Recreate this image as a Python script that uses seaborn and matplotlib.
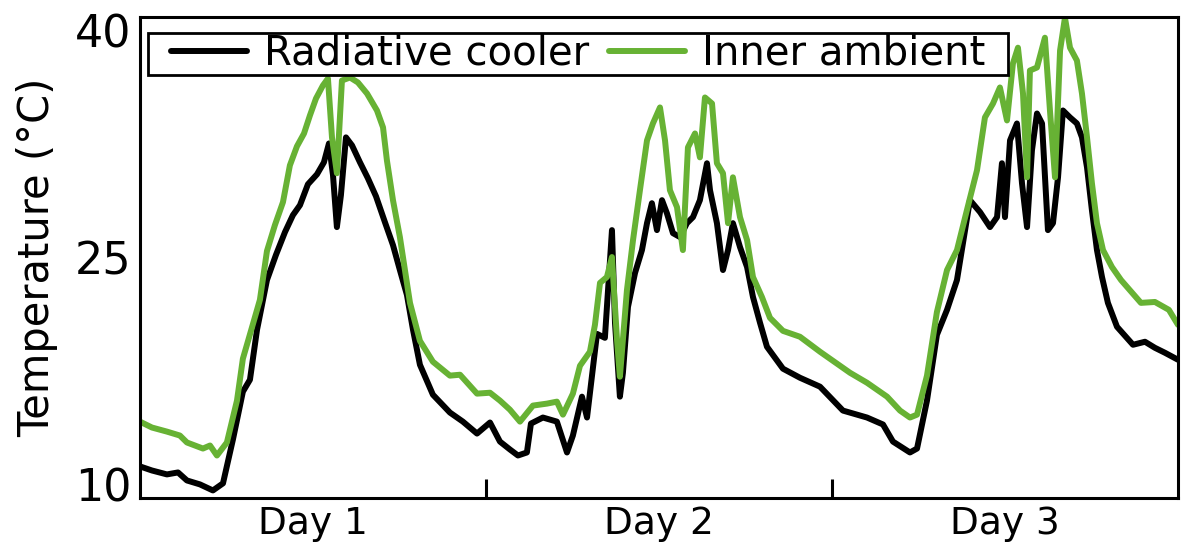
"""
Radiative cooler vs inner ambient temperature over three days.
"""

import matplotlib
matplotlib.use("Agg")
import matplotlib.pyplot as plt
import seaborn as sns
import pandas as pd
from matplotlib.patches import Rectangle
from matplotlib.ticker import FixedLocator


# time in hours since start, temperatures in degC
cooler_hours = [
    0.00, 0.83, 1.87, 2.64, 3.26, 4.16, 5.06, 5.76, 6.45, 7.14, 7.63, 8.12,
    8.81, 9.43, 10.06, 10.61, 11.10, 11.65, 12.28, 12.76, 13.11, 13.39, 13.66,
    13.94, 14.29, 14.71, 15.26, 15.81, 16.37, 16.99, 17.55, 18.03, 18.52, 18.94,
    19.42, 20.32, 21.50, 22.40, 23.38, 24.28, 24.97, 25.66, 26.22, 26.84, 27.12,
    27.95, 28.92, 29.62, 30.03, 30.66, 31.01, 31.70, 32.25, 32.74, 32.95, 33.29,
    33.50, 33.85, 34.34, 34.82, 35.17, 35.51, 35.86, 36.21, 36.55, 36.97, 37.46,
    37.94, 38.36, 38.84, 39.33, 39.54, 40.02, 40.44, 40.79, 41.13, 41.62, 42.11,
    42.52, 43.01, 43.49, 44.60, 45.78, 47.17, 48.76, 50.43, 51.54, 52.23, 53.41,
    53.90, 54.59, 55.28, 55.98, 56.67, 57.57, 58.27, 58.96, 59.45, 59.79, 60.00,
    60.35, 60.83, 61.18, 61.53, 61.87, 62.22, 62.57, 62.98, 63.33, 63.68, 64.02,
    64.51, 64.99, 65.34, 65.69, 66.03, 66.38, 66.73, 67.14, 67.77, 68.88, 69.71,
    70.40, 71.10, 72.00,
]
cooler_temp = [
    11.19, 10.92, 10.66, 10.79, 10.26, 10.00, 9.60, 10.07, 12.97, 16.13, 16.92,
    20.22, 23.51, 25.16, 26.68, 27.80, 28.46, 29.84, 30.50, 31.29, 32.54, 30.44,
    27.01, 29.12, 32.94, 32.41, 31.29, 30.24, 29.05, 27.34, 25.82, 24.17, 22.52,
    20.22, 17.91, 15.93, 14.75, 14.15, 13.36, 14.09, 12.83, 12.31, 11.91, 12.11,
    14.02, 14.42, 14.15, 12.11, 13.23, 15.80, 14.42, 19.95, 19.69, 26.81, 20.68,
    15.80, 17.38, 21.73, 23.98, 25.49, 27.27, 28.59, 26.81, 28.79, 27.93, 26.61,
    26.35, 27.27, 27.67, 28.79, 31.23, 29.45, 27.27, 24.17, 25.49, 27.27, 25.69,
    24.37, 22.39, 20.68, 19.10, 17.65, 17.05, 16.46, 14.88, 14.42, 13.96, 12.83,
    12.11, 12.37, 15.54, 19.89, 21.54, 23.51, 28.79, 28.00, 27.01, 27.67, 31.23,
    27.67, 32.74, 33.86, 29.91, 27.01, 32.08, 34.52, 33.86, 26.81, 27.27, 30.30,
    34.72, 34.26, 33.86, 32.94, 30.96, 28.13, 25.49, 23.71, 22.00, 20.42, 19.23,
    19.43, 19.03, 18.70, 18.24,
]

ambient_hours = [
    0.00, 0.83, 1.87, 2.77, 3.26, 4.37, 4.86, 5.34, 6.03, 6.73, 7.14, 7.84,
    8.32, 8.81, 9.36, 9.92, 10.40, 10.89, 11.38, 11.79, 12.21, 12.69, 13.04,
    13.32, 13.66, 14.01, 14.57, 15.12, 15.75, 16.44, 16.86, 17.13, 17.55, 18.03,
    18.38, 18.73, 19.42, 20.32, 21.50, 22.20, 23.38, 24.28, 24.97, 25.66, 26.36,
    27.26, 28.23, 28.92, 29.34, 30.03, 30.52, 31.21, 31.56, 31.91, 32.39, 32.74,
    33.09, 33.29, 33.78, 34.20, 34.68, 35.17, 35.58, 36.07, 36.42, 36.76, 37.25,
    37.66, 38.01, 38.50, 38.84, 39.19, 39.68, 40.02, 40.44, 40.79, 41.13, 41.62,
    42.11, 42.52, 43.14, 43.70, 44.60, 45.78, 47.17, 49.25, 50.43, 51.82, 52.72,
    53.41, 53.90, 54.59, 55.28, 55.98, 56.67, 57.36, 58.06, 58.61, 59.17, 59.65,
    60.14, 60.55, 60.90, 61.25, 61.53, 61.73, 62.22, 62.77, 63.12, 63.47, 63.82,
    64.16, 64.51, 64.99, 65.34, 65.69, 66.03, 66.38, 66.80, 67.42, 68.05, 69.43,
    70.40, 71.37, 72.00,
]
ambient_temp = [
    14.15, 13.76, 13.49, 13.23, 12.77, 12.37, 12.57, 11.91, 12.77, 15.54, 18.31,
    20.61, 22.20, 25.43, 27.14, 28.66, 31.09, 32.35, 33.20, 34.39, 35.51, 36.37,
    36.83, 32.94, 30.57, 36.70, 36.90, 36.57, 35.84, 34.72, 33.60, 31.42, 28.79,
    26.35, 24.17, 22.00, 19.49, 18.11, 17.19, 17.25, 16.00, 16.06, 15.54, 14.94,
    14.15, 15.21, 15.34, 15.47, 14.61, 16.00, 17.84, 18.77, 20.55, 23.32, 23.71,
    25.03, 19.56, 17.12, 22.85, 26.15, 29.45, 32.74, 33.86, 34.92, 32.74, 29.45,
    28.33, 25.49, 32.28, 33.20, 31.62, 35.58, 35.18, 31.23, 30.57, 27.27, 30.30,
    27.67, 26.15, 23.71, 22.39, 21.01, 20.15, 19.76, 18.77, 17.38, 16.72, 15.80,
    14.88, 14.42, 14.61, 17.19, 21.40, 24.17, 25.49, 28.13, 30.77, 34.26, 35.18,
    36.24, 34.06, 37.82, 38.87, 35.84, 30.30, 37.36, 37.56, 39.53, 34.72, 30.30,
    38.68, 40.85, 38.87, 38.02, 35.84, 32.94, 29.91, 27.27, 25.49, 24.37, 23.51,
    22.00, 22.06, 21.54, 20.55,
]

day_labels = ["Day 1", "Day 2", "Day 3"]
day_centers = [12, 36, 60]
day_bounds = [24, 48]
y_ticks = [10, 25, 40]

COOLER_COLOR = "#000000"
AMBIENT_COLOR = "#67b234"


sns.set_style("white")
plt.rcParams["font.family"] = ["DejaVu Sans"]
plt.rcParams["text.color"] = "black"
plt.rcParams["axes.labelcolor"] = "black"
plt.rcParams["xtick.color"] = "black"
plt.rcParams["ytick.color"] = "black"

fig = plt.figure(figsize=(11.82, 5.46), dpi=100)
ax = fig.add_axes([0.1184, 0.0879, 0.8782, 0.881])

cooler = pd.DataFrame({"hour": cooler_hours, "temp": cooler_temp})
ambient = pd.DataFrame({"hour": ambient_hours, "temp": ambient_temp})

sns.lineplot(data=cooler, x="hour", y="temp", color=COOLER_COLOR, lw=4.3,
             label="Radiative cooler", ax=ax)
sns.lineplot(data=ambient, x="hour", y="temp", color=AMBIENT_COLOR, lw=4.3,
             label="Inner ambient", ax=ax)

ax.set_xlim(0, 72)
ax.set_ylim(9.1, 40.9)

ax.set_xticks(day_centers)
ax.set_xticklabels(day_labels, fontsize=27)
ax.xaxis.set_minor_locator(FixedLocator(day_bounds))
ax.tick_params(axis="x", which="major", length=0, pad=6)
ax.tick_params(axis="x", which="minor", direction="in", length=14, width=2.2,
               bottom=True, color="black")

ax.set_yticks(y_ticks)
ax.set_yticklabels([str(t) for t in y_ticks], fontsize=32)
ax.tick_params(axis="y", length=0, pad=6)

ax.set_xlabel("")
ax.set_ylabel("Temperature (°C)", fontsize=30, labelpad=12)

for side in ax.spines.values():
    side.set_color("black")
    side.set_linewidth(2.2)

# legend without its own frame; a wider box is drawn round it below
leg = ax.legend(loc="upper left", bbox_to_anchor=(0.026, 0.973), ncol=2,
                fontsize=29, frameon=False, handlelength=1.9,
                handletextpad=0.42, columnspacing=0.47, borderpad=0.1,
                borderaxespad=0)

fig.canvas.draw()
bb = leg.get_window_extent()
pad_x, pad_y = 19, -3
x0, y0 = fig.transFigure.inverted().transform((bb.x0 - pad_x, bb.y0 - pad_y))
x1, y1 = fig.transFigure.inverted().transform((bb.x1 + pad_x, bb.y1 + pad_y))
fig.add_artist(Rectangle((x0, y0), x1 - x0, y1 - y0, transform=fig.transFigure,
                         facecolor="white", edgecolor="black", lw=2, zorder=4))
leg.set_zorder(5)
fig.add_artist(leg)

plt.savefig("out.png", dpi=100)
